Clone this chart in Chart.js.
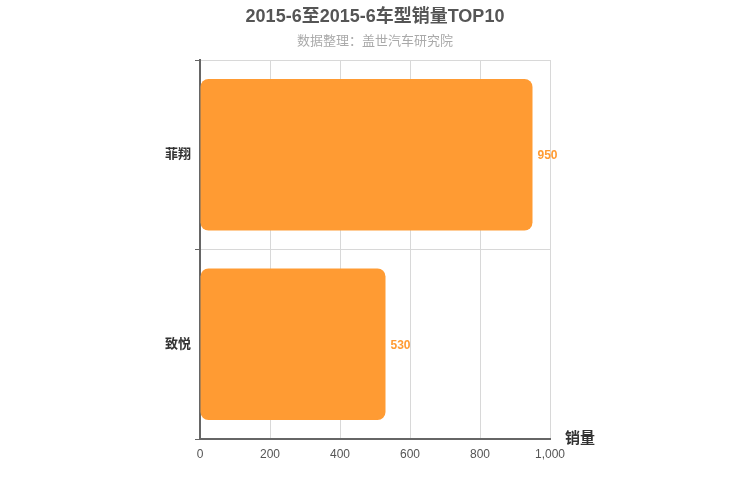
<!DOCTYPE html>
<html><head><meta charset="utf-8">
<script src="https://cdn.jsdelivr.net/npm/chart.js@4"></script>
<style>html,body{margin:0;padding:0;background:#fff}#wrap{width:750px;height:500px}</style>
</head><body><div id="wrap"><canvas id="c" width="750" height="500"></canvas></div>
<script>
const titleText = '2015-6至2015-6车型销量TOP10';
const subtitleText = '数据整理：盖世汽车研究院';
const categories = ['菲翔', '致悦'];
const sales = [950, 530];
const axisTitle = '销量';
const FONT = '"Liberation Sans", "Noto Sans CJK SC", sans-serif';

const deco = {
  id: 'deco',
  afterDraw(chart) {
    const ctx = chart.ctx, a = chart.chartArea;
    ctx.save();
    ctx.textAlign = 'center'; ctx.textBaseline = 'middle';
    ctx.fillStyle = '#555';
    ctx.font = 'bold 18px ' + FONT;
    ctx.fillText(titleText, 375, 17);
    ctx.fillStyle = '#aaa';
    ctx.font = '13px ' + FONT;
    ctx.fillText(subtitleText, 375, 41);
    ctx.fillStyle = '#333';
    ctx.font = 'bold 15px ' + FONT;
    ctx.textAlign = 'left';
    ctx.fillText(axisTitle, a.right + 15, a.bottom);
    const meta = chart.getDatasetMeta(0);
    ctx.font = 'bold 12px ' + FONT;
    ctx.fillStyle = '#FF9B33';
    meta.data.forEach((el, i) => {
      ctx.fillText(String(chart.data.datasets[0].data[i]), el.x + 5, el.y + 1);
    });
    ctx.restore();
  }
};

new Chart(document.getElementById('c'), {
  type: 'bar',
  data: { labels: categories, datasets: [{ data: sales, backgroundColor: '#FF9B33', borderRadius: 8, borderSkipped: false, barPercentage: 0.8, categoryPercentage: 1 }] },
  options: {
    indexAxis: 'y', responsive: false, animation: false,
    layout: { padding: { left: 0, right: 200, top: 60, bottom: 0 } },
    plugins: { legend: { display: false }, title: { display: false }, tooltip: { enabled: false } },
    scales: {
      x: {
        min: 0, max: 1000,
        ticks: { stepSize: 200, color: '#555', font: { family: FONT, size: 12 }, padding: 8 },
        grid: { color: '#d8d8d8', drawTicks: false },
        border: { color: '#666', width: 2 },
        afterFit(s) { s.height = 61; }
      },
      y: {
        ticks: { color: '#333', font: { family: FONT, size: 13, weight: 'bold' }, padding: 4 },
        grid: { color: '#d8d8d8', tickColor: '#666', tickLength: 5, offset: true },
        border: { color: '#666', width: 2 },
        afterFit(s) { s.width = 200; }
      }
    }
  },
  plugins: [deco]
});
</script></body></html>
